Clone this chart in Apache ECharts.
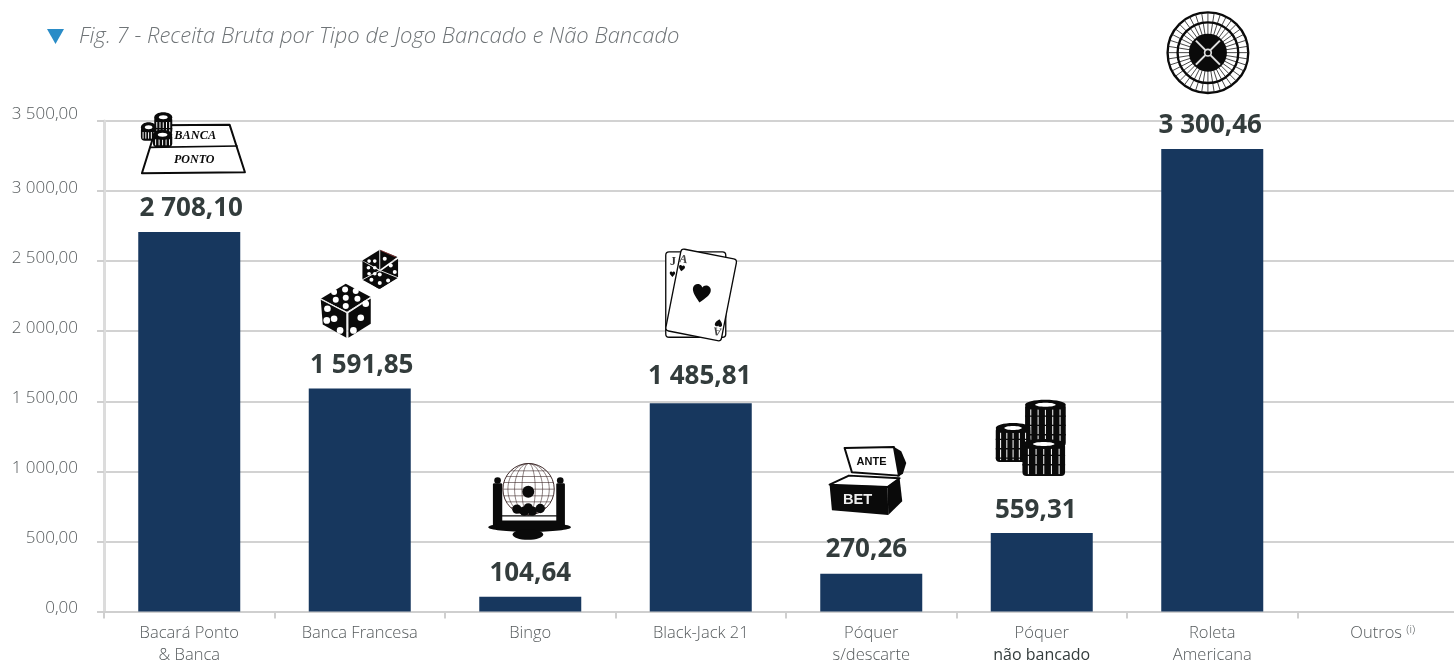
<!DOCTYPE html>
<html>
<head>
<meta charset="utf-8">
<style>html,body{margin:0;background:#fff}#chart{width:1454px;height:662px}</style>
<script src="https://cdn.jsdelivr.net/npm/echarts@6/dist/echarts.min.js"></script>
</head>
<body>
<div id="chart"></div>
<script>
var titleText = 'Fig. 7 - Receita Bruta por Tipo de Jogo Bancado e Não Bancado';
var categories = ['Bacará Ponto\n& Banca', 'Banca Francesa', 'Bingo', 'Black-Jack 21', 'Póquer\ns/descarte', 'Póquer\nnão bancado', 'Roleta\nAmericana', 'Outros (i)'];
var values = [2708.10, 1591.85, 104.64, 1485.81, 270.26, 559.31, 3300.46, null];
var iconNames = ['table', 'dice', 'bingo', 'cards', 'bet', 'chips', 'roulette', null];
// desvio do desenho em relacao ao topo da barra
var iconOffsets = [[-189, -232], [-59, -148], [-230, -357], [-401, -163], [-71, -184], [-242, -143], [-112, -148]];
var labelOffsets = [[2, 0], [2, 0], [0, 0], [-1, -4], [-5, -1], [-6, 0], [-2, 0], [0, 0]];

var BLACK = '#0a0a0a';

function poly(points, fill, stroke, lw) {
    return { type: 'polygon', shape: { points: points }, style: { fill: fill || 'transparent', stroke: stroke || null, lineWidth: lw || 0, lineJoin: 'round' } };
}
function line(x1, y1, x2, y2, stroke, lw) {
    return { type: 'line', shape: { x1: x1, y1: y1, x2: x2, y2: y2 }, style: { stroke: stroke || BLACK, lineWidth: lw || 3 } };
}
function circle(cx, cy, r, fill, stroke, lw) {
    return { type: 'circle', shape: { cx: cx, cy: cy, r: r }, style: { fill: fill || 'transparent', stroke: stroke || null, lineWidth: lw || 0 } };
}
function ellipse(cx, cy, rx, ry, fill, stroke, lw) {
    return { type: 'ellipse', shape: { cx: cx, cy: cy, rx: rx, ry: ry }, style: { fill: fill || 'transparent', stroke: stroke || null, lineWidth: lw || 0 } };
}
function rect(x, y, w, h, fill, r) {
    return { type: 'rect', shape: { x: x, y: y, width: w, height: h, r: r || 0 }, style: { fill: fill } };
}
function label(text, x, y, font, fill, rotation) {
    return { type: 'text', x: x, y: y, rotation: rotation || 0, style: { text: text, x: 0, y: 0, font: font, fill: fill || BLACK, align: 'center', verticalAlign: 'middle' } };
}
function heart(cx, cy, w, h, rotation) {
    return {
        type: 'path', x: cx, y: cy, rotation: rotation || 0,
        shape: { pathData: 'M50,100 C20,70 0,50 0,27 C0,10 13,0 27,0 C37,0 46,6 50,16 C54,6 63,0 73,0 C87,0 100,10 100,27 C100,50 80,70 50,100 Z', x: -w / 2, y: -h / 2, width: w, height: h },
        style: { fill: BLACK }
    };
}
function chipStack(x, y, w, h) {
    var out = [rect(x, y + 10, w, h - 10, BLACK, 12)];
    [0.14, 0.32, 0.5, 0.68, 0.86].forEach(function (f) {
        out.push(line(x + w * f, y + 28, x + w * f, y + h - 6, '#ffffff', 3));
    });
    // separacao entre fichas
    for (var yy = y + 48; yy < y + h - 10; yy += 28) {
        out.push(line(x, yy, x + w, yy, BLACK, 4));
    }
    out.push(ellipse(x + w / 2, y + 14, w / 2, 15, BLACK));
    out.push(ellipse(x + w / 2, y + 14, w / 4, 6, '#ffffff'));
    return out;
}
function pips(list, r, fill) {
    return list.map(function (p) { return circle(p[0], p[1], r, fill || '#ffffff'); });
}

function drawIcon(name) {
    var c = [];
    if (name === 'table') {
        c.push(poly([[470, 376], [688, 374], [734, 517], [425, 520]], '#ffffff', BLACK, 6));
        c.push(line(448, 442, 712, 438, BLACK, 5));
        c.push(label('BANCA', 585, 408, 'italic bold 37px "Liberation Serif"'));
        c.push(label('PONTO', 582, 480, 'italic bold 36px "Liberation Serif"'));
        c = c.concat(chipStack(462, 338, 54, 66), chipStack(422, 368, 46, 54), chipStack(458, 390, 58, 52));
    } else if (name === 'dice') {
        c.push(poly([[60, 175], [135, 130], [210, 170], [140, 215]], BLACK));
        c.push(poly([[60, 178], [137, 218], [137, 292], [66, 252]], BLACK));
        c.push(poly([[143, 218], [210, 174], [210, 250], [143, 292]], BLACK));
        c.push(line(60, 175, 138, 216, '#e8e8e8', 3), line(138, 216, 210, 170, '#e8e8e8', 3), line(139, 216, 139, 292, '#e8e8e8', 3));
        c = c.concat(pips([[133, 147], [100, 155], [165, 152], [135, 172], [105, 178], [170, 175], [135, 197]], 9));
        c = c.concat(pips([[80, 205], [100, 235], [118, 270], [78, 240]], 10));
        c = c.concat(pips([[180, 232], [158, 270], [195, 190]], 10));
        c.push(poly([[237, 28], [290, 50], [237, 88]], BLACK), poly([[237, 28], [185, 60], [237, 88]], BLACK));
        c.push(poly([[185, 62], [234, 90], [234, 145], [185, 115]], BLACK), poly([[240, 92], [292, 55], [292, 110], [238, 145]], BLACK));
        c.push(poly([[234, 92], [185, 118], [236, 146], [292, 112]], BLACK));
        c.push(line(237, 28, 237, 90, '#dddddd', 3), line(237, 90, 185, 118, '#dddddd', 3), line(237, 90, 292, 112, '#dddddd', 3));
        c = c.concat(pips([[205, 62], [222, 62], [203, 82], [222, 82], [205, 100], [222, 100]], 5.5));
        c = c.concat(pips([[252, 55], [270, 75], [282, 95]], 6));
        c = c.concat(pips([[237, 102], [212, 118], [262, 120], [237, 128]], 6));
        c.push(line(240, 30, 285, 50, '#b04040', 2));
    } else if (name === 'bingo') {
        c.push(rect(578, 730, 28, 130, BLACK, 4), rect(768, 730, 26, 130, BLACK, 4));
        c.push(circle(592, 722, 10, BLACK), circle(780, 722, 10, BLACK));
        c.push(ellipse(688, 862, 124, 14, BLACK), rect(590, 842, 192, 24, BLACK));
        c.push(ellipse(683, 884, 46, 16, BLACK));
        var wire = '#3f2b2b';
        c.push(circle(685, 748, 77, '#ffffff', wire, 3));
        [-55, -38, -20, 0, 20, 38, 55].forEach(function (d) {
            c.push(line(685 - Math.sqrt(77 * 77 - d * d), 748 + d, 685 + Math.sqrt(77 * 77 - d * d), 748 + d, wire, 1.8));
        });
        [20, 42, 62].forEach(function (rx) { c.push(ellipse(685, 748, rx, 77, null, wire, 1.8)); });
        c.push(circle(684, 756, 18, BLACK));
        c = c.concat(pips([[650, 808], [672, 814], [696, 814], [720, 806], [684, 804]], 14, BLACK));
        c.push(line(605, 828, 770, 828, BLACK, 4));
    } else if (name === 'cards') {
        c.push({ type: 'rect', shape: { x: 1098, y: 35, width: 180, height: 256, r: 10 }, style: { fill: '#ffffff', stroke: BLACK, lineWidth: 4 } });
        c.push(label('J', 1120, 64, 'bold 36px "Liberation Serif"', '#333333'));
        c.push(heart(1118, 102, 16, 24, 0));
        c.push({ type: 'rect', x: 1145, y: 25, rotation: -0.195, shape: { x: 0, y: 0, width: 170, height: 250, r: 10 }, style: { fill: '#ffffff', stroke: BLACK, lineWidth: 4 } });
        c.push(label('A', 1151, 58, 'bold 34px "Liberation Serif"', '#444444', -0.19));
        c.push(heart(1146, 84, 20, 18, -0.19));
        c.push(heart(1204, 160, 56, 54, -0.19));
        c.push(heart(1257, 248, 22, 24, 2.95));
        c.push(label('A', 1253, 272, 'bold 34px "Liberation Serif"', '#444444', 2.95));
    } else if (name === 'bet') {
        c.push(poly([[278, 170], [303, 185], [318, 220], [308, 252], [292, 262]], BLACK));
        c.push(poly([[133, 175], [281, 172], [296, 258], [155, 248]], '#ffffff', BLACK, 6));
        c.push(label('ANTE', 214, 216, 'bold 33px "Liberation Sans"'));
        c.push(poly([[88, 285], [146, 258], [298, 266], [262, 292]], '#ffffff', BLACK, 6));
        c.push(poly([[88, 285], [262, 290], [264, 376], [95, 362]], BLACK));
        c.push(poly([[262, 290], [298, 265], [306, 335], [264, 376]], BLACK));
        c.push(label('BET', 172, 332, 'bold 44px "Liberation Sans"', '#eeeeee'));
    } else if (name === 'chips') {
        c = c.concat(chipStack(676, 30, 122, 140), chipStack(588, 100, 104, 116), chipStack(668, 148, 128, 110));
    } else if (name === 'roulette') {
        var cx = 323, cy = 155;
        c.push(circle(cx, cy, 121, '#ffffff', BLACK, 7));
        for (var i = 0; i < 40; i++) {
            var a = i / 40 * Math.PI * 2, s = Math.sin(a), k = Math.cos(a);
            c.push(line(cx + k * 92, cy + s * 92, cx + k * 120, cy + s * 120, '#222222', 2.5));
            c.push(line(cx + k * 55, cy + s * 55, cx + k * 90, cy + s * 90, '#222222', 2.5));
        }
        c.push(circle(cx, cy, 91, null, BLACK, 7));
        c.push(circle(cx, cy, 57, BLACK));
        c.push(line(cx - 36, cy - 36, cx + 36, cy + 36, '#e0e0e0', 6), line(cx - 36, cy + 36, cx + 36, cy - 36, '#e0e0e0', 6));
        c.push(circle(cx, cy, 10, BLACK, '#e0e0e0', 5));
    }
    return c;
}

function fmt(v) {
    var parts = v.toFixed(2).split('.');
    return parts[0].replace(/\B(?=(\d{3})+$)/g, ' ') + ',' + parts[1];
}

var FONT = '"Open Sans"';
var chart = echarts.init(document.getElementById('chart'));
chart.setOption({
    animation: false,
    backgroundColor: '#ffffff',
    title: {
        text: titleText, left: 74, top: 21,
        textStyle: { fontFamily: FONT, fontStyle: 'italic', fontWeight: 300, fontSize: 22, color: '#6f7477' }
    },
    graphic: [{ type: 'polygon', shape: { points: [[47, 29], [64, 29], [55.5, 44]] }, style: { fill: '#2a8cc7' } }],
    grid: { left: 104, right: -14, top: 121, bottom: 50.5, outerBoundsMode: 'none' },
    xAxis: {
        type: 'category',
        data: categories,
        axisLine: { show: true, lineStyle: { color: '#cfcfcf', width: 2 } },
        axisTick: { show: true, length: 7, lineStyle: { color: '#cfcfcf', width: 2 } },
        axisLabel: {
            interval: 0, margin: 11, fontFamily: FONT, fontWeight: 300, fontSize: 16.5, lineHeight: 22, color: '#555a5c', verticalAlign: 'top',
            formatter: function (v) {
                return v.replace('não bancado', '{dark|não bancado}').replace('(i)', '{sup|(i)}');
            },
            rich: {
                dark: { fontFamily: FONT, fontWeight: 400, fontSize: 16, lineHeight: 22, color: '#333c3c' },
                sup: { fontFamily: FONT, fontWeight: 300, fontSize: 11.5, lineHeight: 22, color: '#555a5c', padding: [0, 0, 8, 0] }
            }
        }
    },
    yAxis: {
        type: 'value', min: 0, max: 3500, interval: 500,
        axisLine: { show: true, lineStyle: { color: '#dcdcdc', width: 3 } },
        axisTick: { show: true, length: 7, lineStyle: { color: '#cfcfcf', width: 2 } },
        splitLine: { lineStyle: { color: '#d2d2d2', width: 2 } },
        axisLabel: {
            margin: 26, fontFamily: FONT, fontWeight: 300, fontSize: 17, color: '#555a5c', padding: [0, 0, 6, 0],
            formatter: function (v) {
                return v === 3500 ? '{top|' + fmt(v) + '}' : fmt(v);
            },
            rich: {
                top: { fontFamily: FONT, fontWeight: 300, fontSize: 17, color: '#555a5c', padding: [0, 0, 7, 0] }
            }
        }
    },
    series: [{
        type: 'bar',
        data: values.map(function (v, i) { return { value: v, label: { offset: labelOffsets[i] } }; }),
        barWidth: 102,
        itemStyle: { color: '#17375e' },
        label: {
            show: true, position: 'top', distance: 10,
            fontFamily: FONT, fontWeight: 700, fontSize: 26, color: '#333c3c',
            formatter: function (p) { return fmt(p.value); }
        }
    }, {
        type: 'custom',
        silent: true,
        clip: false,
        z: 5,
        data: values.map(function (v, i) { return [i, v]; }).filter(function (d) { return d[1] !== null; }),
        renderItem: function (params, api) {
            var i = api.value(0);
            var pt = api.coord([i, api.value(1)]);
            return {
                type: 'group',
                x: pt[0] + iconOffsets[i][0],
                y: pt[1] + iconOffsets[i][1],
                scaleX: 1 / 3, scaleY: 1 / 3,
                children: drawIcon(iconNames[i])
            };
        }
    }]
});
</script>
</body>
</html>
